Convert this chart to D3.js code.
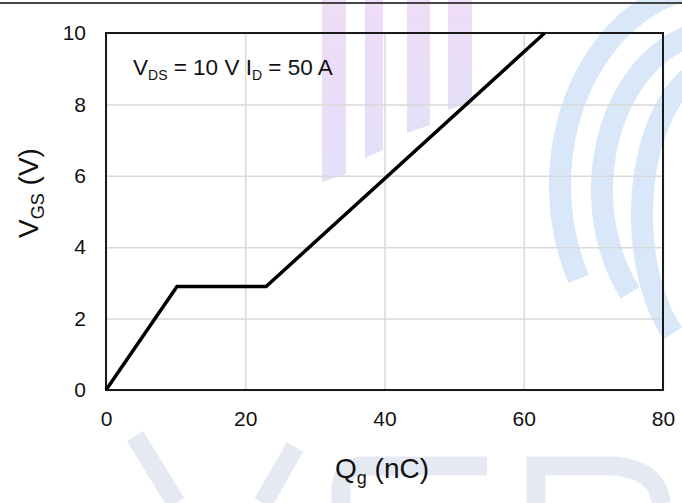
<!DOCTYPE html>
<html>
<head>
<meta charset="utf-8">
<script src="https://cdn.jsdelivr.net/npm/d3@7/dist/d3.min.js"></script>
<style>
  body { margin: 0; background: #fff; }
  svg { display: block; font-family: "Liberation Sans", Arial, sans-serif; }
</style>
</head>
<body>
<div id="chart"></div>
<script>
// gate charge curve
const qg = [0, 10.2, 23, 63];
const vgs = [0, 2.9, 2.9, 10];
const xTicks = [0, 20, 40, 60, 80];
const yTicks = [0, 2, 4, 6, 8, 10];

var FONT = "'Liberation Sans', Arial, sans-serif";
var W = 682, H = 503;
var margin = { top: 33, right: 19, bottom: 113, left: 106 },
    width = W - margin.left - margin.right,
    height = H - margin.top - margin.bottom;

var svg = d3.select("#chart").append("svg")
    .attr("width", W)
    .attr("height", H);

// faint watermark behind the plot
var wm = svg.append("g").attr("class", "watermark");
var grad = svg.append("defs").append("linearGradient")
    .attr("id", "pg").attr("x1", 0).attr("x2", 0).attr("y1", 0).attr("y2", 1);
grad.append("stop").attr("offset", "0%").attr("stop-color", "#f0dcf6");
grad.append("stop").attr("offset", "100%").attr("stop-color", "#e4e0f8");
var purple = [[322, 346, 182], [365, 383, 158], [407, 430, 133], [448, 472, 110]];
purple.forEach(function (b) {
    wm.append("path")
        .attr("d", "M" + b[0] + ",0 L" + b[1] + ",0 L" + b[1] + "," + (b[2] - 8) + " L" + b[0] + "," + b[2] + "Z")
        .attr("fill", "url(#pg)");
});
// blue arcs (ellipse pieces)
[[720, 185, 160, 200, 152], [722, 190, 120, 160, 140], [722, 215, 80, 150, 128]].forEach(function (a) {
    var pts = d3.range(a[4], 272, 2).map(function (t) {
        var r = t * Math.PI / 180;
        return [a[0] + a[2] * Math.cos(r), a[1] + a[3] * Math.sin(r)];
    });
    wm.append("path")
        .attr("d", d3.line()(pts))
        .attr("fill", "none")
        .attr("stroke", "#d8e8f8")
        .attr("stroke-width", 22);
});
var wmGrey = "#e5e9f1";
["M135,436 L176,503", "M295,447 L263,503",
 "M341,503 L341,487 Q343,466 364,466 L487,466",
 "M536,503 L536,466 L615,466 Q658,470 661,503"].forEach(function (p) {
    wm.append("path").attr("d", p).attr("fill", "none")
        .attr("stroke", wmGrey).attr("stroke-width", 19);
});

// line at top of page
svg.append("line")
    .attr("x1", 0).attr("x2", W).attr("y1", 3).attr("y2", 3)
    .attr("stroke", "#444").attr("stroke-width", 2);

var g = svg.append("g")
    .attr("transform", "translate(" + margin.left + "," + margin.top + ")");

var x = d3.scaleLinear().domain([0, 80]).range([0, width]);
var y = d3.scaleLinear().domain([0, 10]).range([height, 0]);

// grid
g.append("g")
    .call(d3.axisBottom(x).tickValues(xTicks).tickSize(height).tickFormat(""))
    .call(a => a.select(".domain").remove())
    .selectAll("line").attr("stroke", "#d9d9d9").attr("stroke-width", 1.5);
g.append("g")
    .call(d3.axisLeft(y).tickValues(yTicks).tickSize(-width).tickFormat(""))
    .call(a => a.select(".domain").remove())
    .selectAll("line").attr("stroke", "#d9d9d9").attr("stroke-width", 1.5);

// tick labels
var xa = g.append("g")
    .attr("transform", "translate(0," + height + ")")
    .call(d3.axisBottom(x).tickValues(xTicks).tickSize(0).tickPadding(21));
xa.select(".domain").remove();
xa.selectAll("text").attr("font-size", 21).attr("fill", "#111").attr("font-family", FONT);

var ya = g.append("g")
    .call(d3.axisLeft(y).tickValues(yTicks).tickSize(0).tickPadding(20));
ya.select(".domain").remove();
ya.selectAll("text").attr("font-size", 21).attr("fill", "#111").attr("font-family", FONT);

// frame
g.append("rect")
    .attr("width", width).attr("height", height)
    .attr("fill", "none").attr("stroke", "#1a1a1a").attr("stroke-width", 2);

// curve
var line = d3.line().x((d, i) => x(qg[i])).y((d, i) => y(vgs[i]));
g.append("path")
    .datum(qg)
    .attr("d", line)
    .attr("fill", "none")
    .attr("stroke", "#000")
    .attr("stroke-width", 3.5)
    .attr("stroke-linejoin", "miter");

// annotation
var ann = g.append("text")
    .attr("x", 27).attr("y", 42)
    .attr("font-size", 22.5).attr("fill", "#111").attr("font-family", FONT);
ann.append("tspan").text("V");
ann.append("tspan").attr("font-size", 14).attr("dy", 5).text("DS");
ann.append("tspan").attr("dy", -5).text(" = 10 V I");
ann.append("tspan").attr("font-size", 14).attr("dy", 5).text("D");
ann.append("tspan").attr("dy", -5).text(" = 50 A");

// axis titles
var xt = svg.append("text")
    .attr("x", 382).attr("y", 478)
    .attr("text-anchor", "middle")
    .attr("font-size", 28).attr("fill", "#111").attr("font-family", FONT);
xt.append("tspan").text("Q");
xt.append("tspan").attr("font-size", 18).attr("dy", 6).text("g");
xt.append("tspan").attr("dy", -6).text(" (nC)");

var yt = svg.append("text")
    .attr("transform", "translate(38,193) rotate(-90)")
    .attr("text-anchor", "middle")
    .attr("font-size", 28).attr("fill", "#111").attr("font-family", FONT);
yt.append("tspan").text("V");
yt.append("tspan").attr("font-size", 18).attr("dy", 6).text("GS");
yt.append("tspan").attr("dy", -6).text(" (V)");
</script>
</body>
</html>
